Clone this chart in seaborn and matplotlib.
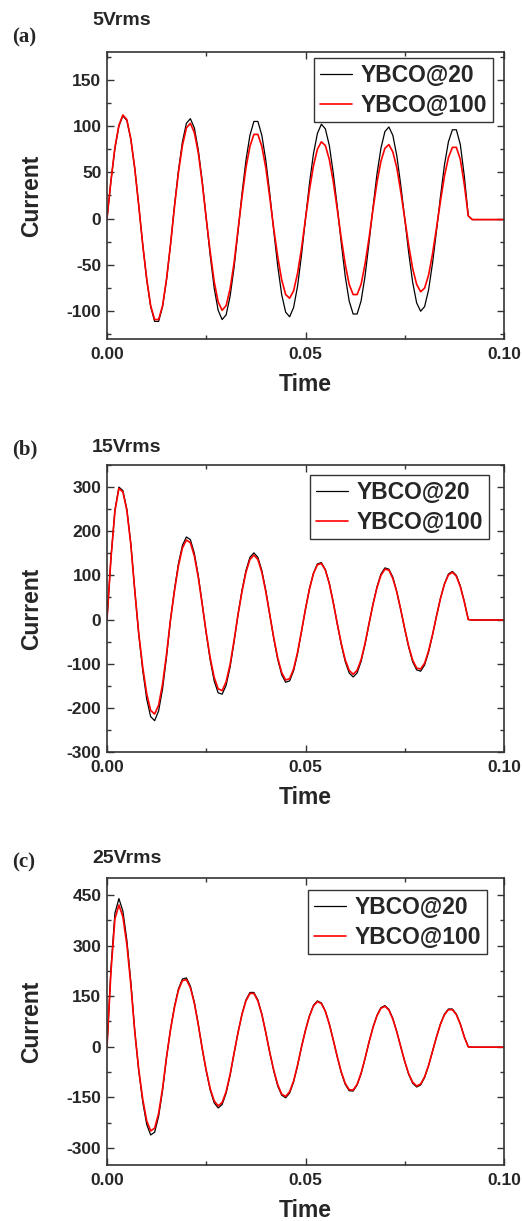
import numpy as np
import pandas as pd
import seaborn as sns
import matplotlib.pyplot as plt
from matplotlib.ticker import MultipleLocator, FormatStrFormatter

sns.set_style('ticks')
plt.rcParams['font.family'] = ['Liberation Sans', 'DejaVu Sans']
plt.rcParams['font.weight'] = 'bold'
plt.rcParams['axes.unicode_minus'] = False

# sample instants (ms)
time_ms = [0, 1, 2, 3, 4, 5, 6, 7, 8, 9, 10, 11, 12, 13, 14, 15, 16, 17, 18, 19,
           20, 21, 22, 23, 24, 25, 26, 27, 28, 29, 30, 31, 32, 33, 34, 35, 36, 37, 38, 39,
           40, 41, 42, 43, 44, 45, 46, 47, 48, 49, 50, 51, 52, 53, 54, 55, 56, 57, 58, 59,
           60, 61, 62, 63, 64, 65, 66, 67, 68, 69, 70, 71, 72, 73, 74, 75, 76, 77, 78, 79,
           80, 81, 82, 83, 84, 85, 86, 87, 88, 89, 90, 91, 92, 100]

# (a) 5 Vrms
a_black = [0, 41, 76, 100, 111, 106, 86, 54, 14,
           -28, -66, -95, -111, -111, -95, -66, -28,
           14, 52, 83, 103, 108, 98, 74, 40, 0,
           -40, -75, -99, -109, -104, -84, -53, -14,
           27, 63, 90, 105, 105, 90, 63, 27,
           -13, -51, -82, -101, -106, -96, -73, -39, 0,
           38, 70, 92, 102, 97, 79, 49, 13,
           -26, -62, -89, -103, -103, -89, -62, -26,
           12, 48, 76, 94, 99, 90, 68, 36, 0,
           -37, -69, -91, -100, -95, -77, -48, -13,
           24, 58, 83, 96, 96, 80, 46, 3,
           -1, -1]
a_red = [0, 41, 77, 101, 112, 107, 86, 54, 14,
         -28, -65, -94, -109, -109, -94, -65, -28,
         13, 50, 79, 98, 103, 93, 71, 38, 0,
         -36, -68, -90, -99, -94, -76, -48, -12,
         23, 55, 78, 91, 91, 78, 55, 23,
         -11, -41, -66, -82, -86, -78, -59, -32, 0,
         31, 57, 75, 83, 79, 64, 40, 10,
         -21, -49, -71, -82, -82, -71, -49, -21,
         10, 39, 62, 76, 80, 72, 55, 29, 0,
         -29, -54, -71, -79, -75, -61, -38, -10,
         19, 46, 66, 77, 77, 64, 37, 3,
         -1, -1]

# (b) 15 Vrms
b_black = [0, 140, 248, 300, 292, 250, 172, 66,
           -34, -115, -180, -220, -229, -207, -157, -84,
           0, 68, 127, 168, 187, 181, 150, 99, 35,
           -32, -92, -139, -166, -169, -149, -108, -51,
           11, 66, 111, 141, 151, 141, 111, 66, 11,
           -43, -90, -125, -142, -139, -116, -77, -27,
           24, 70, 105, 126, 129, 113, 82, 39,
           -10, -56, -95, -121, -130, -121, -95, -56, -10,
           35, 74, 103, 117, 114, 96, 63, 22,
           -22, -63, -96, -114, -117, -103, -74, -35,
           8, 48, 81, 103, 109, 100, 76, 41, 0,
           -1, -1]
b_red = [0, 139, 246, 297, 289, 247, 170, 65,
         -32, -108, -168, -206, -214, -194, -146, -78,
         0, 65, 122, 162, 180, 174, 144, 95, 33,
         -30, -87, -131, -157, -161, -141, -102, -48,
         11, 63, 107, 136, 146, 136, 107, 63, 11,
         -41, -87, -120, -137, -134, -112, -74, -26,
         24, 69, 104, 124, 127, 112, 81, 38,
         -9, -54, -91, -115, -124, -115, -91, -54, -9,
         34, 72, 100, 114, 112, 93, 62, 22,
         -21, -61, -92, -110, -112, -99, -71, -34,
         8, 48, 80, 101, 107, 98, 74, 40, 0,
         -1, -1]

# (c) 25 Vrms
c_black = [0, 233, 396, 439, 402, 316, 193, 46,
           -71, -163, -230, -261, -253, -206, -129, -31,
           52, 120, 172, 201, 204, 180, 132, 66,
           -7, -72, -128, -166, -181, -171, -137, -85, -20,
           42, 97, 139, 161, 161, 139, 97, 42,
           -17, -71, -116, -143, -151, -137, -104, -56, 0,
           50, 92, 123, 136, 130, 106, 68, 20,
           -30, -76, -111, -130, -131, -113, -80, -35,
           14, 58, 93, 116, 122, 111, 84, 45, 0,
           -44, -82, -108, -119, -113, -91, -56, -13,
           30, 68, 97, 112, 112, 97, 68, 30, 0,
           -1, -1]
c_red = [0, 223, 379, 420, 385, 303, 184, 44,
         -68, -155, -219, -249, -241, -197, -123, -30,
         51, 117, 168, 196, 199, 175, 129, 65,
         -6, -70, -124, -160, -175, -165, -133, -82, -19,
         42, 96, 136, 158, 158, 136, 96, 42,
         -17, -69, -112, -140, -147, -133, -101, -54, 0,
         49, 91, 121, 134, 128, 105, 67, 20,
         -29, -74, -108, -127, -128, -111, -78, -34,
         14, 57, 92, 114, 120, 109, 82, 44, 0,
         -43, -80, -105, -116, -110, -89, -55, -13,
         29, 67, 95, 110, 110, 95, 67, 29, 0,
         -1, -1]

series_names = ['YBCO@20', 'YBCO@100']
panel_tags = ['(a)', '(b)', '(c)']
panel_titles = ['5Vrms', '15Vrms', '25Vrms']
y_limits = [(-130, 180), (-300, 350), (-350, 500)]
y_major = [50, 100, 150]

W, H = 522, 1221
fig = plt.figure(figsize=(W / 100, H / 100), dpi=100)

# axes boxes in pixels: left, top, right, bottom
boxes = [(107, 52, 504, 339), (107, 465, 504, 752), (107, 878, 504, 1165)]
legend_boxes = [(493, 58), (489, 475), (487, 890)]
tag_y = [37, 449, 862]
title_base = [25, 452, 863]

data = [(a_black, a_red), (b_black, b_red), (c_black, c_red)]
t_sec = np.array(time_ms) / 1000.0

for i in range(3):
    l, t, r, b = boxes[i]
    ax = fig.add_axes([l / W, 1 - b / H, (r - l) / W, (b - t) / H])
    blk, red = data[i]
    df = pd.DataFrame({'Time': np.concatenate([t_sec, t_sec]),
                       'Current': blk + red,
                       'Series': [series_names[0]] * len(t_sec) + [series_names[1]] * len(t_sec)})
    sns.lineplot(data=df[df['Series'] == series_names[0]], x='Time', y='Current',
                 color='black', lw=0.9, estimator=None, ax=ax, label=series_names[0])
    sns.lineplot(data=df[df['Series'] == series_names[1]], x='Time', y='Current',
                 color='#ff0000', lw=1.2, estimator=None, ax=ax, label=series_names[1])

    ax.set_xlim(0, 0.1)
    ax.set_ylim(*y_limits[i])
    ax.xaxis.set_major_locator(MultipleLocator(0.05))
    ax.xaxis.set_minor_locator(MultipleLocator(0.025))
    ax.xaxis.set_major_formatter(FormatStrFormatter('%.2f'))
    ax.yaxis.set_major_locator(MultipleLocator(y_major[i]))
    ax.yaxis.set_minor_locator(MultipleLocator(y_major[i] / 2))
    ax.tick_params(which='both', direction='in', top=True, right=True,
                   color='#333333', labelsize=12.5)
    ax.tick_params(which='major', length=5, width=1)
    ax.tick_params(which='minor', length=3, width=1)
    ax.tick_params(axis='y', pad=4)
    ax.tick_params(axis='x', pad=6)
    for lab in ax.get_xticklabels() + ax.get_yticklabels():
        lab.set_fontweight('bold')
    for sp in ax.spines.values():
        sp.set_linewidth(1.2)
        sp.set_color('#333333')

    ax.set_xlabel('Time', fontsize=16.5, fontweight='bold', va='top')
    ax.set_ylabel('Current', fontsize=16.5, fontweight='bold')
    ax.xaxis.set_label_coords(0.5, -34 / (b - t))
    ax.yaxis.set_label_coords((43 - l) / (r - l), 0.5)

    lx, ly = legend_boxes[i]
    leg = ax.legend(loc='upper right',
                    bbox_to_anchor=((lx - l) / (r - l), (b - ly) / (b - t)),
                    borderaxespad=0, frameon=True, fancybox=False,
                    prop={'size': 16.5, 'weight': 'bold'},
                    handlelength=1.4, handletextpad=0.4,
                    borderpad=0.25, labelspacing=0.3)
    leg.get_frame().set_edgecolor('black')
    leg.get_frame().set_linewidth(1.0)

    fig.text(12 / W, 1 - tag_y[i] / H, panel_tags[i], family='Liberation Serif',
             fontweight='bold', fontsize=15, va='center', ha='left')
    fig.text(92 / W, 1 - title_base[i] / H, panel_titles[i], fontweight='bold',
             fontsize=14, va='baseline', ha='left')

fig.savefig('out.png', dpi=100)
